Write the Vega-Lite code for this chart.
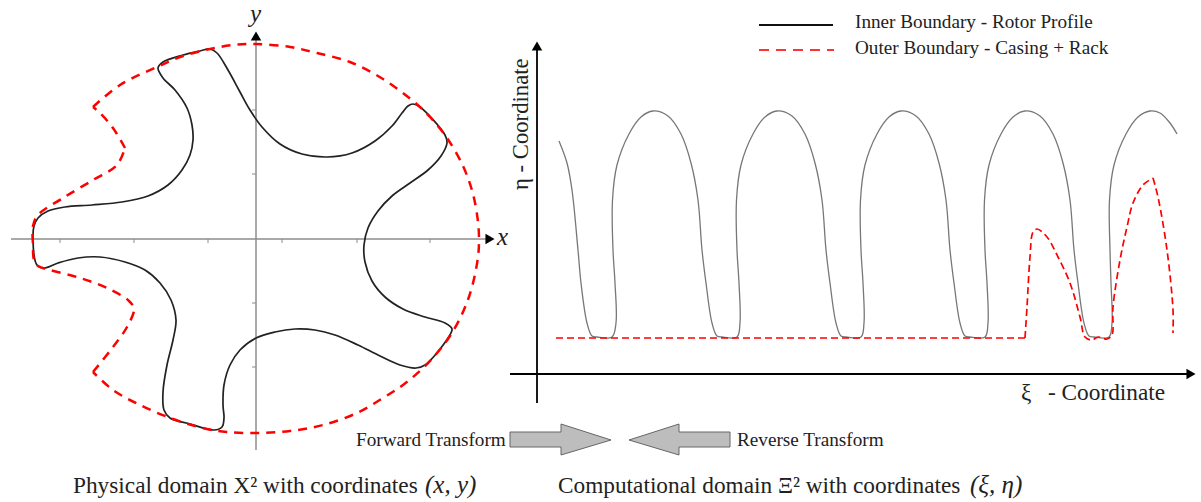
{"$schema":"https://vega.github.io/schema/vega-lite/v6.json","width":1201,"height":502,"autosize":{"type":"fit","contains":"padding"},"padding":0,"background":"white","config":{"view":{"stroke":null}},
"datasets":{
"rotorPhysical":[{"x":33,"y":235},{"x":34,"y":226},{"x":38,"y":218},{"x":48,"y":211},{"x":65,"y":207},{"x":92,"y":205},{"x":122,"y":202},{"x":148,"y":196},{"x":168,"y":185},{"x":182,"y":170},{"x":190,"y":155},{"x":193,"y":140},{"x":192,"y":125},{"x":187,"y":108},{"x":175,"y":90},{"x":163,"y":78},{"x":158,"y":68},{"x":163,"y":62},{"x":183,"y":55},{"x":200,"y":51},{"x":210,"y":49},{"x":217,"y":53},{"x":228,"y":70},{"x":240,"y":92},{"x":250,"y":110},{"x":262,"y":127},{"x":280,"y":144},{"x":302,"y":154},{"x":327,"y":157},{"x":352,"y":153},{"x":375,"y":141},{"x":392,"y":126},{"x":402,"y":113},{"x":408,"y":106},{"x":413,"y":104},{"x":420,"y":107},{"x":445,"y":135},{"x":447,"y":143},{"x":441,"y":156},{"x":428,"y":170},{"x":410,"y":183},{"x":392,"y":196},{"x":378,"y":211},{"x":368,"y":228},{"x":364,"y":245},{"x":365,"y":262},{"x":372,"y":281},{"x":385,"y":297},{"x":403,"y":309},{"x":425,"y":317},{"x":445,"y":323},{"x":452,"y":329},{"x":448,"y":338},{"x":425,"y":365},{"x":416,"y":368},{"x":400,"y":365},{"x":380,"y":356},{"x":358,"y":345},{"x":335,"y":335},{"x":315,"y":330},{"x":295,"y":329},{"x":275,"y":332},{"x":256,"y":338},{"x":240,"y":350},{"x":230,"y":365},{"x":224,"y":385},{"x":223,"y":405},{"x":224,"y":418},{"x":222,"y":427},{"x":214,"y":430},{"x":190,"y":424},{"x":170,"y":418},{"x":164,"y":410},{"x":163,"y":392},{"x":167,"y":365},{"x":173,"y":340},{"x":176,"y":320},{"x":171,"y":300},{"x":160,"y":283},{"x":145,"y":270},{"x":125,"y":262},{"x":100,"y":257},{"x":78,"y":258},{"x":58,"y":263},{"x":44,"y":268},{"x":37,"y":265},{"x":34,"y":255},{"x":33,"y":235}],
"casingPhysical":[{"p":"arc","x":93,"y":107},{"p":"arc","x":120,"y":85},{"p":"arc","x":157,"y":67},{"p":"arc","x":183,"y":56},{"p":"arc","x":210,"y":49},{"p":"arc","x":233,"y":45},{"p":"arc","x":256,"y":44},{"p":"arc","x":290,"y":47},{"p":"arc","x":317,"y":53},{"p":"arc","x":350,"y":62},{"p":"arc","x":383,"y":79},{"p":"arc","x":413,"y":101},{"p":"arc","x":430,"y":117},{"p":"arc","x":447,"y":138},{"p":"arc","x":463,"y":166},{"p":"arc","x":473,"y":194},{"p":"arc","x":478,"y":222},{"p":"arc","x":479,"y":240},{"p":"arc","x":478,"y":257},{"p":"arc","x":472,"y":287},{"p":"arc","x":463,"y":312},{"p":"arc","x":450,"y":336},{"p":"arc","x":437,"y":353},{"p":"arc","x":422,"y":369},{"p":"arc","x":403,"y":385},{"p":"arc","x":383,"y":398},{"p":"arc","x":357,"y":413},{"p":"arc","x":323,"y":425},{"p":"arc","x":290,"y":431},{"p":"arc","x":257,"y":433},{"p":"arc","x":227,"y":432},{"p":"arc","x":207,"y":429},{"p":"arc","x":173,"y":419},{"p":"arc","x":140,"y":405},{"p":"arc","x":113,"y":390},{"p":"arc","x":93,"y":372},
{"p":"rackLow","x":93,"y":372},{"p":"rackLow","x":113,"y":347},{"p":"rackLow","x":127,"y":327},{"p":"rackLow","x":134,"y":309},{"p":"rackLow","x":129,"y":301},{"p":"rackLow","x":107,"y":288},{"p":"rackLow","x":80,"y":278},{"p":"rackLow","x":50,"y":270},{"p":"rackLow","x":38,"y":266},{"p":"rackLow","x":34,"y":260},{"p":"rackLow","x":33,"y":245},{"p":"rackLow","x":33,"y":226},{"p":"rackLow","x":38,"y":215},{"p":"rackLow","x":63,"y":198},{"p":"rackLow","x":93,"y":180},{"p":"rackLow","x":117,"y":165},{"p":"rackLow","x":125,"y":148},
{"p":"rackUp","x":125,"y":148},{"p":"rackUp","x":113,"y":128},{"p":"rackUp","x":100,"y":113},{"p":"rackUp","x":93,"y":107}],
"rotorComputational":[{"x":559,"y":141},{"x":567,"y":163},{"x":572,"y":190},{"x":578,"y":250},{"x":581,"y":283},{"x":587,"y":323},{"x":592,"y":336},{"x":597,"y":337},{"x":612,"y":337},{"x":616,"y":323},{"x":615,"y":283},{"x":613,"y":250},{"x":612.5,"y":200},{"x":617,"y":165},{"x":629,"y":134},{"x":641,"y":117},{"x":653,"y":111},{"x":668,"y":116},{"x":681,"y":134},{"x":691,"y":163},{"x":698,"y":200},{"x":702,"y":250},{"x":706,"y":283},{"x":712,"y":323},{"x":717,"y":336},{"x":722,"y":337},{"x":737,"y":337},{"x":740,"y":323},{"x":739,"y":283},{"x":737,"y":250},{"x":736.5,"y":200},{"x":741,"y":165},{"x":753,"y":134},{"x":765,"y":117},{"x":777,"y":111},{"x":792,"y":116},{"x":805,"y":134},{"x":815,"y":163},{"x":822,"y":200},{"x":826,"y":250},{"x":830,"y":283},{"x":836,"y":323},{"x":841,"y":336},{"x":846,"y":337},{"x":861,"y":337},{"x":864,"y":323},{"x":863,"y":283},{"x":861,"y":250},{"x":860.5,"y":200},{"x":865,"y":165},{"x":877,"y":134},{"x":889,"y":117},{"x":901,"y":111},{"x":916,"y":116},{"x":929,"y":134},{"x":939,"y":163},{"x":946,"y":200},{"x":950,"y":250},{"x":954,"y":283},{"x":960,"y":323},{"x":965,"y":336},{"x":970,"y":337},{"x":985,"y":337},{"x":988,"y":323},{"x":987,"y":283},{"x":985,"y":250},{"x":984.5,"y":200},{"x":989,"y":165},{"x":1001,"y":134},{"x":1013,"y":117},{"x":1025,"y":111},{"x":1040,"y":116},{"x":1053,"y":134},{"x":1063,"y":163},{"x":1070,"y":200},{"x":1074,"y":250},{"x":1078,"y":283},{"x":1084,"y":323},{"x":1089,"y":336},{"x":1094,"y":337},{"x":1109,"y":337},{"x":1112,"y":323},{"x":1111,"y":283},{"x":1110,"y":250},{"x":1109.5,"y":200},{"x":1114,"y":165},{"x":1126,"y":134},{"x":1138,"y":117},{"x":1150,"y":111},{"x":1160,"y":113},{"x":1170,"y":123},{"x":1177,"y":134}],
"casingComputational":[{"p":"flat","x":556,"y":338},{"p":"flat","x":1025,"y":338},{"p":"hump1","x":1025,"y":338},{"p":"hump1","x":1027,"y":307},{"p":"hump1","x":1030,"y":257},{"p":"hump1","x":1033,"y":232},{"p":"hump1","x":1037,"y":229},{"p":"hump1","x":1047,"y":237},{"p":"hump1","x":1058,"y":257},{"p":"hump1","x":1070,"y":283},{"p":"hump1","x":1080,"y":317},{"p":"hump1","x":1085,"y":337},{"p":"hump1","x":1092,"y":340},{"p":"hump1","x":1098,"y":337},{"p":"hump1","x":1107,"y":339},{"p":"hump1","x":1112,"y":335},{"p":"hump1","x":1113,"y":307},{"p":"hump1","x":1120,"y":260},{"p":"hump1","x":1127,"y":227},{"p":"hump1","x":1133,"y":203},{"p":"hump1","x":1143,"y":185},{"p":"hump1","x":1153,"y":178},{"p":"tail","x":1153,"y":178},{"p":"tail","x":1158,"y":197},{"p":"tail","x":1167,"y":250},{"p":"tail","x":1173,"y":310},{"p":"tail","x":1173,"y":333}],
"gridV":[{"x":563},{"x":588},{"x":612},{"x":637},{"x":662},{"x":686},{"x":711},{"x":736},{"x":760},{"x":785},{"x":810},{"x":835},{"x":859},{"x":884},{"x":909},{"x":933},{"x":958},{"x":983},{"x":1008},{"x":1032},{"x":1057},{"x":1082},{"x":1107},{"x":1132},{"x":1156},{"x":1181}],
"gridH":[{"y":83},{"y":119},{"y":156},{"y":192},{"y":229},{"y":265},{"y":302},{"y":338}],
"axesGray":[{"x":11,"y":239,"x2":486,"y2":239},{"x":256,"y":40,"x2":256,"y2":450}],
"ticks":[{"x":60,"y":239,"x2":60,"y2":243},{"x":134,"y":239,"x2":134,"y2":243},{"x":208,"y":239,"x2":208,"y2":243},{"x":282,"y":239,"x2":282,"y2":243},{"x":357,"y":239,"x2":357,"y2":243},{"x":430,"y":239,"x2":430,"y2":243},{"x":252,"y":110,"x2":256,"y2":110},{"x":252,"y":174,"x2":256,"y2":174},{"x":252,"y":303,"x2":256,"y2":303},{"x":252,"y":367,"x2":256,"y2":367}],
"axesBlack":[{"x":537,"y":48,"x2":537,"y2":403},{"x":510,"y":374,"x2":1188,"y2":374}],
"headsUp":[{"x":256,"y":36},{"x":537,"y":46}],
"headsRight":[{"x":490,"y":239},{"x":1191,"y":374}],
"arrows":[{"arrow":"forward","x":510,"y":432,"y2":447},{"arrow":"forward","x":561,"y":432,"y2":447},{"arrow":"forward","x":561,"y":424,"y2":455},{"arrow":"forward","x":611,"y":440,"y2":440},{"arrow":"reverse","x":629,"y":440,"y2":440},{"arrow":"reverse","x":679,"y":424,"y2":455},{"arrow":"reverse","x":679,"y":432,"y2":447},{"arrow":"reverse","x":730,"y":432,"y2":447}],
"legendInner":[{"x":759,"y":25},{"x":833,"y":25}],
"legendOuter":[{"x":759,"y":50},{"x":834,"y":50}],
"textSmall":[{"x":855,"y":28,"t":"Inner Boundary - Rotor Profile"},{"x":855,"y":54,"t":"Outer Boundary - Casing + Rack"},{"x":356,"y":446,"t":"Forward Transform"},{"x":737,"y":446,"t":"Reverse Transform"}],
"textCaption":[{"x":73,"y":493,"t":"Physical domain X² with coordinates"},{"x":558,"y":493,"t":"Computational domain Ξ² with coordinates"},{"x":1048,"y":400,"t":"- Coordinate"},{"x":1021,"y":400,"t":"ξ"}],
"textItalic":[{"x":425,"y":493,"t":"(x, y)"},{"x":970,"y":493,"t":"(ξ, η)"},{"x":250,"y":22,"t":"y"},{"x":497,"y":245,"t":"x"}],
"textVertical":[{"x":528,"y":190,"t":"η - Coordinate"}]
},
"encoding":{"x":{"field":"x","type":"quantitative","scale":{"domain":[0,1201],"nice":false,"zero":false},"axis":null},"y":{"field":"y","type":"quantitative","scale":{"domain":[0,502],"reverse":true,"nice":false,"zero":false},"axis":null}},
"layer":[
{"data":{"name":"gridV"},"mark":{"type":"rule","stroke":"#dcdcdc","strokeWidth":1,"strokeDash":[2,3]},"encoding":{"x":{"field":"x","type":"quantitative"},"y":{"datum":83},"y2":{"datum":374}}},
{"data":{"name":"gridH"},"mark":{"type":"rule","stroke":"#dcdcdc","strokeWidth":1,"strokeDash":[2,3]},"encoding":{"y":{"field":"y","type":"quantitative"},"x":{"datum":537},"x2":{"datum":1181}}},
{"data":{"name":"axesGray"},"mark":{"type":"rule","stroke":"#8c8c8c","strokeWidth":1.5},"encoding":{"x2":{"field":"x2"},"y2":{"field":"y2"}}},
{"data":{"name":"ticks"},"mark":{"type":"rule","stroke":"#8c8c8c","strokeWidth":1},"encoding":{"x2":{"field":"x2"},"y2":{"field":"y2"}}},
{"data":{"name":"axesBlack"},"mark":{"type":"rule","stroke":"#000","strokeWidth":1.8},"encoding":{"x2":{"field":"x2"},"y2":{"field":"y2"}}},
{"data":{"name":"headsUp"},"mark":{"type":"point","shape":"triangle-up","filled":true,"fill":"#000","opacity":1,"size":110}},
{"data":{"name":"headsRight"},"mark":{"type":"point","shape":"triangle-right","filled":true,"fill":"#000","opacity":1,"size":110}},
{"data":{"name":"rotorComputational"},"mark":{"type":"line","order":false,"interpolate":"catmull-rom","stroke":"#777","strokeWidth":1.3}},
{"data":{"name":"casingComputational"},"mark":{"type":"line","order":false,"interpolate":"catmull-rom","stroke":"#f00","strokeWidth":1.7,"strokeDash":[7,4]},"encoding":{"detail":{"field":"p"}}},
{"data":{"name":"rotorPhysical"},"mark":{"type":"line","order":false,"interpolate":"catmull-rom","stroke":"#222","strokeWidth":1.7}},
{"data":{"name":"casingPhysical"},"mark":{"type":"line","order":false,"interpolate":"catmull-rom","stroke":"#f00","strokeWidth":2.5,"strokeDash":[9,7]},"encoding":{"detail":{"field":"p"}}},
{"data":{"name":"legendInner"},"mark":{"type":"line","stroke":"#111","strokeWidth":2}},
{"data":{"name":"legendOuter"},"mark":{"type":"line","stroke":"#f33","strokeWidth":2.2,"strokeDash":[10,7]}},
{"data":{"name":"arrows"},"mark":{"type":"area","order":false,"fill":"#bdbdbd","stroke":"#666","strokeWidth":1,"opacity":1},"encoding":{"y2":{"field":"y2"},"detail":{"field":"arrow"}}},
{"data":{"name":"textSmall"},"mark":{"type":"text","align":"left","baseline":"alphabetic","font":"Liberation Serif","fontSize":19.2,"fill":"#222"},"encoding":{"text":{"field":"t"}}},
{"data":{"name":"textCaption"},"mark":{"type":"text","align":"left","baseline":"alphabetic","font":"Liberation Serif","fontSize":23.3,"fill":"#222"},"encoding":{"text":{"field":"t"}}},
{"data":{"name":"textItalic"},"mark":{"type":"text","align":"left","baseline":"alphabetic","font":"Liberation Serif","fontStyle":"italic","fontSize":25,"fill":"#222"},"encoding":{"text":{"field":"t"}}},
{"data":{"name":"textVertical"},"mark":{"type":"text","align":"left","baseline":"alphabetic","angle":270,"font":"Liberation Serif","fontSize":22.7,"fill":"#222"},"encoding":{"text":{"field":"t"}}}
]}
